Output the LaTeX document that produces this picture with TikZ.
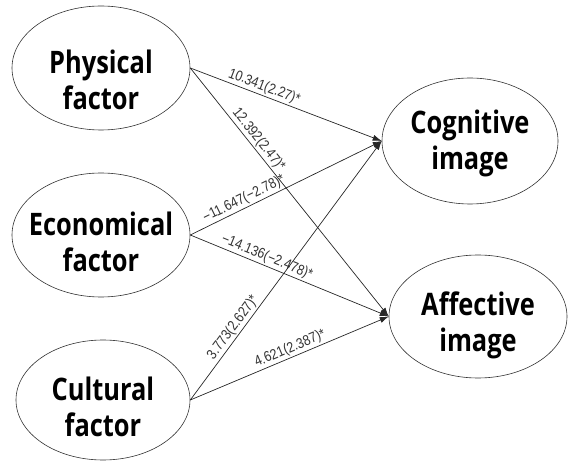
\documentclass[tikz,border=0pt]{standalone}
\usepackage{fontspec}
\usetikzlibrary{shapes.geometric,arrows.meta}
\newfontfamily\nodefont[FakeStretch=0.82]{Open Sans}
\newfontfamily\labfont[FakeStretch=0.86]{Liberation Sans}
\tikzset{
  factor/.style={draw=black!80, line width=0.6pt, ellipse, inner sep=0pt, align=center,
    font=\nodefont\bfseries\fontsize{31}{36}\selectfont},
  path/.style={draw=black!85, line width=0.7pt, -{Latex[length=9pt,width=6pt]}},
  coef/.style={font=\labfont\fontsize{14.5}{16}\selectfont, text=black!80, sloped, above, inner sep=1.5pt}
}
\begin{document}
\begin{tikzpicture}[x=1pt,y=-1pt]
\useasboundingbox (0,0) rectangle (568,462);
\node[factor, minimum width=178pt, minimum height=124pt] (phys) at (101,68) {};
\node[factor, minimum width=178pt, minimum height=124pt] (econ) at (101,235) {};
\node[factor, minimum width=174pt, minimum height=120pt] (cult) at (103,400) {};
\node[factor, minimum width=176pt, minimum height=126pt] (cog) at (470,141) {};
\node[factor, minimum width=178pt, minimum height=123pt] (aff) at (478,316.5) {};
\node[factor, draw=none] (physT) at (101,80) {Physical\\factor};
\node[factor, draw=none] (econT) at (101,242) {Economical\\factor};
\node[factor, draw=none] (cultT) at (103,407) {Cultural\\factor};
\node[factor, draw=none] (cogT) at (470,143) {Cognitive\\image};
\node[factor, draw=none] (affT) at (478,325) {Affective\\image};
\draw[path] (phys.east) -- node[coef, pos=0.37] (l1) {10.341(2.27)*} (cog.west);
\draw[path] (phys.east) -- node[coef, pos=0.31] (l2) {12.392(2.47)*} (aff.west);
\draw[path] (econ.east) -- node[coef, pos=0.30] (l3) {−11.647(−2.78)*} (cog.west);
\draw[path] (econ.east) -- node[coef, pos=0.37] (l4) {−14.136(−2.478)*} (aff.west);
\draw[path] (cult.east) -- node[coef, pos=0.26] (l5) {3.773(2.627)*} (cog.west);
\draw[path] (cult.east) -- node[coef, pos=0.52] (l6) {4.621(2.387)*} (aff.west);
\end{tikzpicture}
\end{document}
